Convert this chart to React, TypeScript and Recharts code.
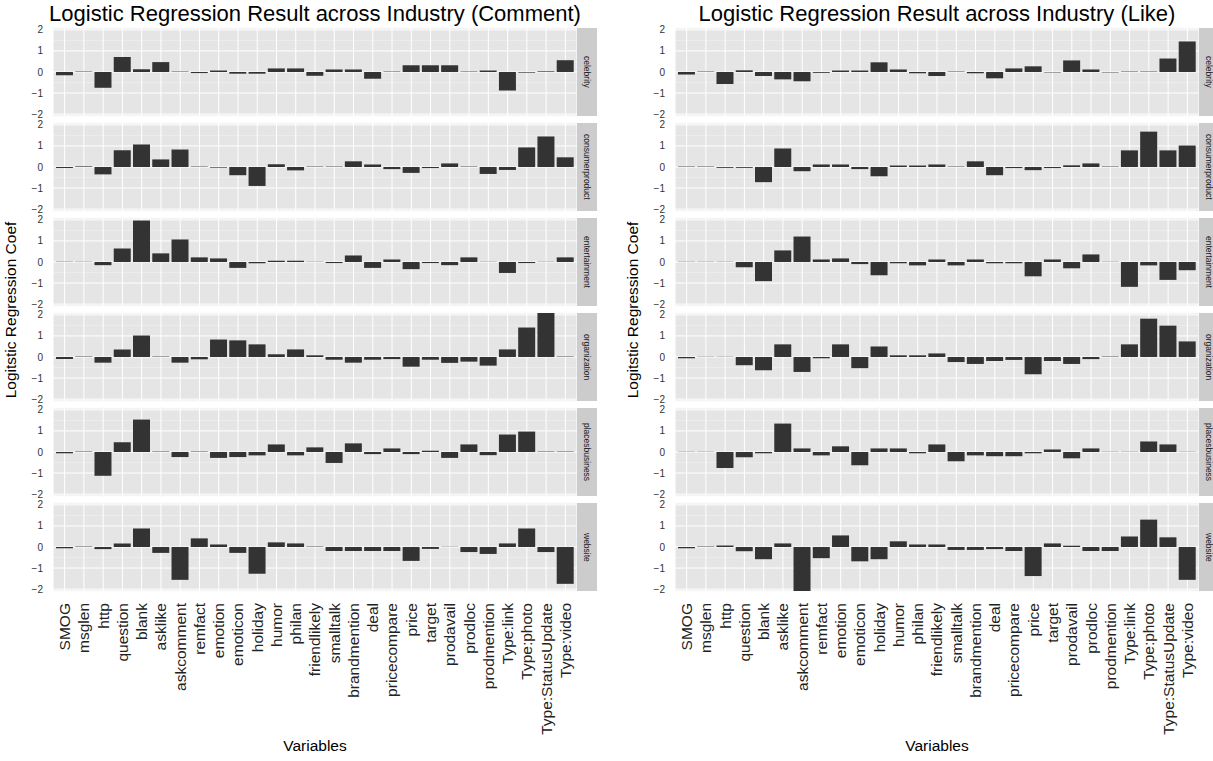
import React from 'react';
import { BarChart, Bar, XAxis, YAxis, CartesianGrid } from 'recharts';

const variables = [
  'SMOG', 'msglen', 'http', 'question', 'blank', 'asklike', 'askcomment', 'remfact', 'emotion',
  'emoticon', 'holiday', 'humor', 'philan', 'friendlikely', 'smalltalk', 'brandmention', 'deal',
  'pricecompare', 'price', 'target', 'prodavail', 'prodloc', 'prodmention', 'Type:link',
  'Type:photo', 'Type:StatusUpdate', 'Type:video',
];
const industries = ['celebrity', 'consumerproduct', 'entertainment', 'organization', 'placesbusiness', 'website'];
const yTicks = [-2, -1, 0, 1, 2];
const yMinorTicks = [-1.5, -0.5, 0.5, 1.5];

// comment model
const commentCelebrity = [-0.15, 0.02, -0.75, 0.71, 0.13, 0.47, 0.02, -0.05, 0.07, -0.08, -0.08, 0.17, 0.17, -0.18, 0.12, 0.12, -0.32, 0.02, 0.32, 0.32, 0.32, 0.02, 0.07, -0.88, -0.03, 0.03, 0.56];
const commentConsumer = [-0.05, 0.03, -0.35, 0.79, 1.07, 0.36, 0.83, 0.02, -0.03, -0.39, -0.9, 0.13, -0.16, 0.02, 0.02, 0.27, 0.12, -0.1, -0.28, -0.05, 0.17, 0.02, -0.33, -0.14, 0.93, 1.45, 0.46];
const commentEntertainment = [0.01, 0.01, -0.15, 0.64, 1.97, 0.41, 1.07, 0.22, 0.17, -0.28, -0.06, 0.06, 0.06, 0.01, -0.05, 0.31, -0.28, 0.12, -0.34, -0.05, -0.15, 0.22, 0.01, -0.52, -0.05, 0.01, 0.22];
const commentOrganization = [-0.1, 0.02, -0.27, 0.36, 1.02, 0.02, -0.27, -0.11, 0.83, 0.79, 0.6, 0.13, 0.36, 0.08, -0.13, -0.27, -0.13, -0.1, -0.46, -0.13, -0.28, -0.22, -0.41, 0.36, 1.4, 2.12, 0.02];
const commentPlaces = [-0.06, 0.02, -1.13, 0.46, 1.54, 0.02, -0.24, 0.02, -0.28, -0.24, -0.16, 0.36, -0.16, 0.22, -0.52, 0.41, -0.1, 0.17, -0.1, 0.06, -0.28, 0.36, -0.15, 0.83, 0.97, 0.02, 0.02];
const commentWebsite = [-0.06, 0.02, -0.1, 0.17, 0.88, -0.28, -1.56, 0.41, 0.12, -0.28, -1.27, 0.22, 0.17, 0.02, -0.19, -0.19, -0.19, -0.19, -0.66, -0.09, 0.01, -0.24, -0.33, 0.17, 0.88, -0.24, -1.75];

// like model
const likeCelebrity = [-0.12, 0.02, -0.57, 0.08, -0.19, -0.35, -0.44, -0.04, 0.07, 0.07, 0.46, 0.12, -0.06, -0.19, 0.02, -0.06, -0.3, 0.17, 0.27, -0.02, 0.55, 0.12, -0.02, 0.02, 0.02, 0.64, 1.45];
const likeConsumer = [0.02, 0.02, -0.04, -0.04, -0.72, 0.88, -0.2, 0.12, 0.12, -0.1, -0.44, 0.07, 0.07, 0.12, 0.02, 0.27, -0.39, -0.05, -0.15, -0.05, 0.08, 0.17, 0.02, 0.79, 1.68, 0.79, 1.02];
const likeEntertainment = [0.01, 0.01, 0.01, -0.25, -0.91, 0.55, 1.21, 0.12, 0.17, -0.1, -0.63, -0.06, -0.16, 0.12, -0.16, 0.12, -0.06, -0.06, -0.68, 0.12, -0.3, 0.36, 0.01, -1.18, -0.16, -0.85, -0.39];
const likeOrganization = [-0.06, 0.01, 0.01, -0.39, -0.63, 0.6, -0.71, -0.06, 0.6, -0.53, 0.5, 0.08, 0.08, 0.17, -0.24, -0.33, -0.19, -0.14, -0.82, -0.19, -0.33, -0.1, 0.02, 0.6, 1.82, 1.49, 0.74];
const likePlaces = [0.01, 0.01, -0.76, -0.25, -0.06, 1.35, 0.17, -0.16, 0.27, -0.63, 0.17, 0.17, -0.06, 0.36, -0.44, -0.16, -0.2, -0.2, -0.06, 0.12, -0.3, 0.17, 0.01, 0.01, 0.5, 0.36, 0.01];
const likeWebsite = [-0.06, 0.02, 0.07, -0.2, -0.58, 0.17, -2.1, -0.53, 0.55, -0.68, -0.58, 0.27, 0.12, 0.12, -0.14, -0.14, -0.1, -0.19, -1.38, 0.17, 0.06, -0.19, -0.19, 0.5, 1.3, 0.46, -1.56];

const commentByIndustry = [commentCelebrity, commentConsumer, commentEntertainment, commentOrganization, commentPlaces, commentWebsite];
const likeByIndustry = [likeCelebrity, likeConsumer, likeEntertainment, likeOrganization, likePlaces, likeWebsite];

const FONT = '"Liberation Sans", Arial, Helvetica, sans-serif';
const PANEL_TOP = 28;
const PANEL_STEP = 95;
const PANEL_H = 88;
const PAD = 6; // room above/below each facet so the ±2 labels are not clipped
const AXIS_W = 53;
const PLOT_W = 524;
const STRIP_W = 20;
const X_AXIS_H = 150;
const DOMAIN: [number, number] = [-2.09, 2.09];

const fmtY = (v: number) => String(v).replace('-', '\u2212');

function VarTick(props: any) {
  const { x, y, payload } = props;
  return (
    <g transform={`translate(${x},${y})`}>
      <text transform="rotate(-90)" textAnchor="end" dy="0.35em" fontSize={15.5} fill="#222" fontFamily={FONT}>
        {payload.value}
      </text>
    </g>
  );
}

function Facet({ values, isLast }: { values: number[]; isLast: boolean }) {
  const data = variables.map((name, i) => ({ name, coef: values[i] }));
  return (
    <BarChart
      width={AXIS_W + PLOT_W}
      height={PANEL_H + PAD + (isLast ? X_AXIS_H : PAD)}
      data={data}
      margin={{ top: PAD, right: 0, bottom: isLast ? 0 : PAD, left: 0 }}
      barCategoryGap="5%"
    >
      <CartesianGrid yAxisId="minor" vertical={false} fill="#E5E5E5" fillOpacity={1} stroke="#F2F2F2" strokeWidth={0.6} />
      <CartesianGrid stroke="#FFFFFF" strokeWidth={1} />
      <XAxis
        dataKey="name"
        hide={!isLast}
        height={isLast ? X_AXIS_H : 0}
        interval={0}
        padding={{ left: 2, right: 2 }}
        tick={<VarTick />}
        tickLine={false}
        axisLine={false}
        tickSize={4}
        tickMargin={8}
      />
      <YAxis
        type="number"
        domain={DOMAIN}
        ticks={yTicks}
        allowDataOverflow
        interval={0}
        width={AXIS_W}
        tick={{ fontSize: 10, fill: '#333', fontFamily: FONT }}
        tickFormatter={fmtY}
        tickLine={false}
        axisLine={false}
        tickSize={6}
        tickMargin={4}
      />
      <YAxis yAxisId="minor" type="number" hide domain={DOMAIN} ticks={yMinorTicks} allowDataOverflow />
      <Bar dataKey="coef" fill="#333333" isAnimationActive={false} />
    </BarChart>
  );
}

function Column({ left, title, sets }: { left: number; title: string; sets: number[][] }) {
  const plotCenter = left + AXIS_W + PLOT_W / 2;
  const facetsMid = PANEL_TOP + (PANEL_STEP * 5 + PANEL_H) / 2;
  return (
    <>
      <div style={{ position: 'absolute', left: plotCenter - 400, width: 800, top: 1, textAlign: 'center', fontSize: 22, lineHeight: '25px', color: '#000', fontFamily: FONT }}>
        {title}
      </div>
      <div style={{ position: 'absolute', left: left + 11, top: facetsMid, transform: 'translate(-50%, -50%) rotate(-90deg)', whiteSpace: 'nowrap', fontSize: 15.5, color: '#000', fontFamily: FONT }}>
        Logitstic Regression Coef
      </div>
      {sets.map((values, k) => (
        <div key={industries[k]} style={{ position: 'absolute', left, top: PANEL_TOP + PANEL_STEP * k - PAD }}>
          <Facet values={values} isLast={k === sets.length - 1} />
        </div>
      ))}
      {industries.map((name, k) => (
        <div
          key={name}
          style={{
            position: 'absolute', left: left + AXIS_W + PLOT_W, top: PANEL_TOP + PANEL_STEP * k, width: STRIP_W, height: PANEL_H,
            background: '#CCCCCC', display: 'flex', alignItems: 'center', justifyContent: 'center',
          }}
        >
          <span style={{ writingMode: 'vertical-rl', fontSize: 8.5, color: '#1A1A1A', fontFamily: FONT, whiteSpace: 'nowrap' }}>{name}</span>
        </div>
      ))}
      <div style={{ position: 'absolute', left: plotCenter - 100, width: 200, top: 737, textAlign: 'center', fontSize: 15.5, lineHeight: '18px', color: '#000', fontFamily: FONT }}>
        Variables
      </div>
    </>
  );
}

export default function App() {
  return (
    <div style={{ position: 'absolute', left: 0, top: 0, width: 1213, height: 761, overflow: 'hidden', background: '#fff' }}>
      <Column left={0} title="Logistic Regression Result across Industry (Comment)" sets={commentByIndustry} />
      <Column left={622} title="Logistic Regression Result across Industry (Like)" sets={likeByIndustry} />
    </div>
  );
}
